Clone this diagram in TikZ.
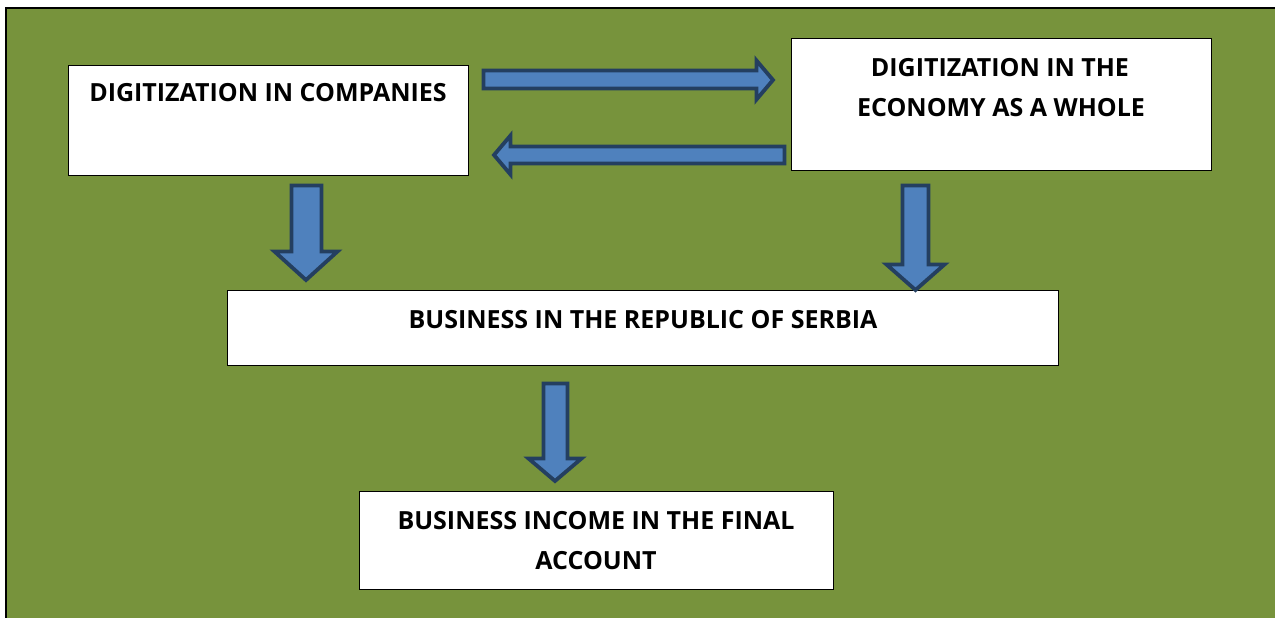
\documentclass[tikz,border=0pt]{standalone}
\usepackage{fontspec}
\setmainfont{Open Sans}
\definecolor{bg}{HTML}{77933C}
\definecolor{afill}{HTML}{4F81BD}
\definecolor{aline}{HTML}{243F60}
\begin{document}
\begin{tikzpicture}[x=1pt,y=-1pt,
  box/.style={draw=black,line width=0.9pt,fill=white},
  blockarrow/.style={fill=afill,draw=aline,line width=3.8pt,line join=miter},
  lbl/.style={anchor=base,inner sep=0pt,font=\fontsize{25}{30}\selectfont\bfseries}]
\useasboundingbox (0,0) rectangle (1275,618);
\fill[white] (0,0) rectangle (1275,618);
\fill[bg] (6,8) rectangle (1275,618);
\draw[line width=2pt,black] (6,618) -- (6,8) -- (1275,8);
% boxes
\node[box,minimum width=400pt,minimum height=110pt,anchor=north west] (b1) at (68,65) {};
\node[box,minimum width=420pt,minimum height=132pt,anchor=north west] (b2) at (791,38) {};
\node[box,minimum width=831pt,minimum height=75pt,anchor=north west] (b3) at (227,290) {};
\node[box,minimum width=474pt,minimum height=98pt,anchor=north west] (b4) at (359,491) {};
% labels
\node[lbl] (t1) at (268,102) {DIGITIZATION IN COMPANIES};
\node[lbl] (t2a) at (1000,77) {DIGITIZATION IN THE};
\node[lbl] (t2b) at (1001,117) {ECONOMY AS A WHOLE};
\node[lbl] (t3) at (643,328) {BUSINESS IN THE REPUBLIC OF SERBIA};
\node[lbl] (t4a) at (596,529) {BUSINESS INCOME IN THE FINAL};
\node[lbl] (t4b) at (596,569) {ACCOUNT};
% arrows
\draw[blockarrow] (483.5,70.5) -- (756.5,70.5) -- (756.5,60.5) -- (773,80) -- (756.5,99.5) -- (756.5,88.5) -- (483.5,88.5) -- cycle;
\draw[blockarrow] (784.5,146.5) -- (510.5,146.5) -- (510.5,135.5) -- (494,155) -- (510.5,174.5) -- (510.5,163.5) -- (784.5,163.5) -- cycle;
\draw[blockarrow] (291.5,185.5) -- (321.5,185.5) -- (321.5,251.5) -- (337.5,251.5) -- (306,280) -- (274.5,251.5) -- (291.5,251.5) -- cycle;
\draw[blockarrow] (902.5,185.5) -- (928.5,185.5) -- (928.5,264.5) -- (944.5,264.5) -- (915.5,290) -- (886.5,264.5) -- (902.5,264.5) -- cycle;
\draw[blockarrow] (543.5,383.5) -- (567.5,383.5) -- (567.5,458.5) -- (581.5,458.5) -- (555,481) -- (528.5,458.5) -- (543.5,458.5) -- cycle;
\end{tikzpicture}
\end{document}
